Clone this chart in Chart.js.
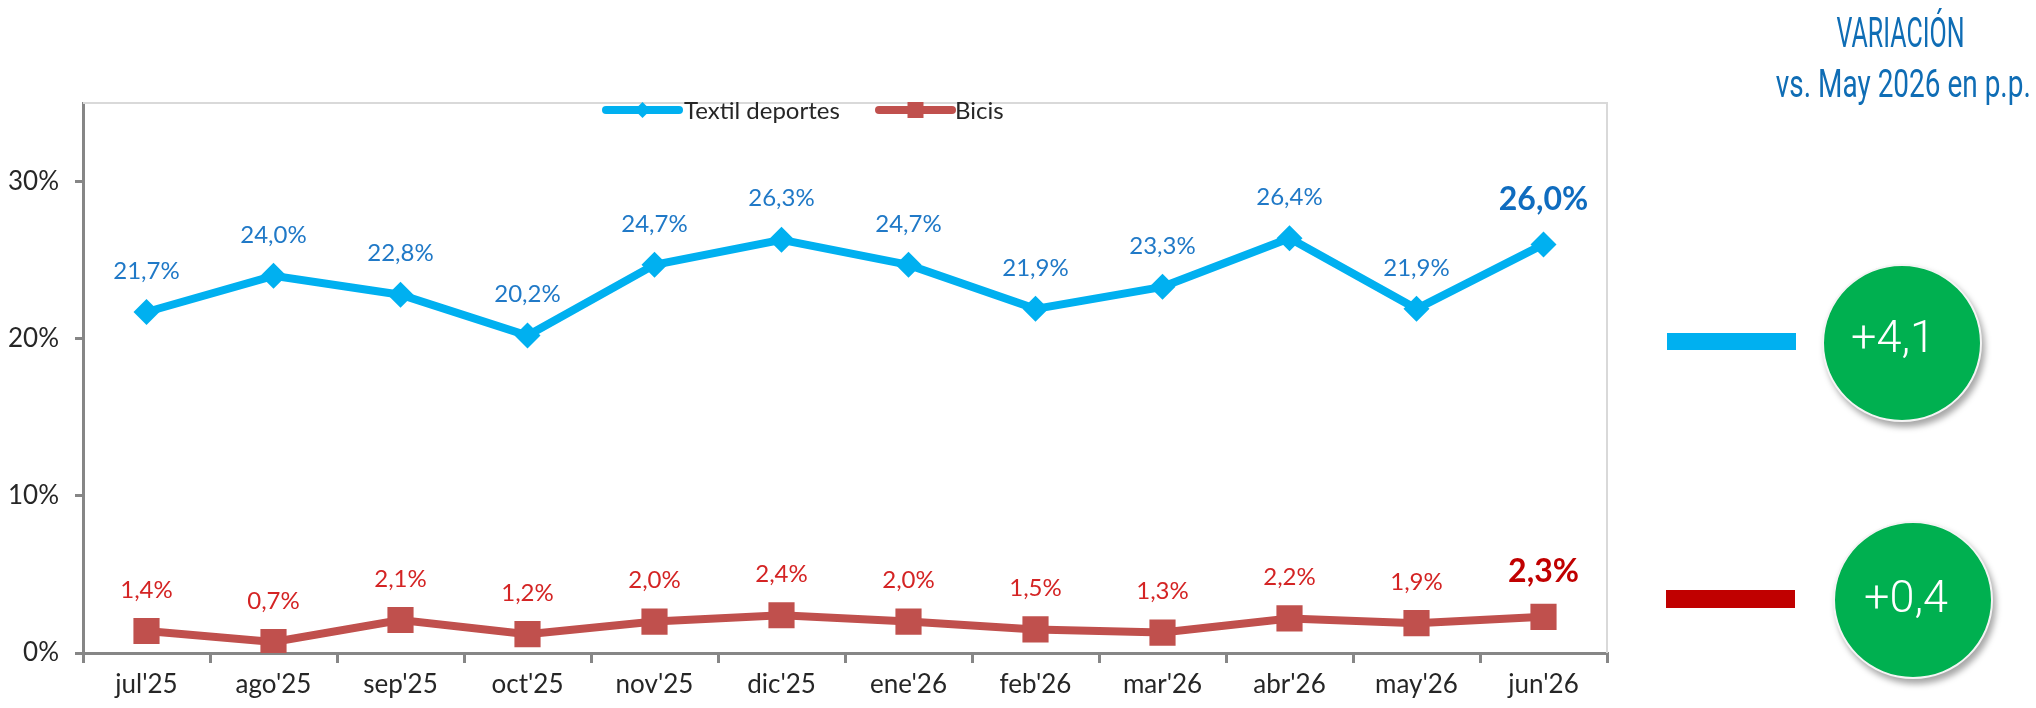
<!DOCTYPE html>
<html>
<head>
<meta charset="utf-8">
<script src="https://cdn.jsdelivr.net/npm/chart.js@4.4.1/dist/chart.umd.min.js"></script>
<style>
html,body{margin:0;padding:0;background:#fff;}
#wrap{position:relative;width:2036px;height:708px;overflow:hidden;background:#fff;}
#c{position:absolute;left:0;top:0;}
.ttl{position:absolute;color:#0f6db5;font-family:Roboto,"DejaVu Sans Condensed",sans-serif;font-weight:400;white-space:nowrap;line-height:1;}
.bub{position:absolute;border-radius:50%;background:#00b050;box-shadow:3px 5px 6px rgba(0,0,0,0.35);border:2px solid #f4f4f4;box-sizing:border-box;}
.btx{position:absolute;color:#fff;font-family:Roboto,"Open Sans",sans-serif;font-weight:300;white-space:nowrap;line-height:1;transform:translate(-50%,-50%);}
.bar{position:absolute;}
</style>
</head>
<body>
<div id="wrap">
  <canvas id="c" width="2036" height="708"></canvas>
  <div class="ttl" id="t1">VARIACIÓN</div>
  <div class="ttl" id="t2">vs. May 2026 en p.p.</div>
  <div class="bar" style="left:1667px;top:333px;width:129px;height:17px;background:#00b0f0;"></div>
  <div class="bar" style="left:1666px;top:590px;width:129px;height:18px;background:#c00000;"></div>
  <div class="bub" style="left:1822px;top:264px;width:160px;height:158px;"></div>
  <div class="bub" style="left:1833px;top:521px;width:160px;height:158px;"></div>
  <div class="btx" id="v1" style="left:1893px;top:336px;font-size:45px;"></div>
  <div class="btx" id="v2" style="left:1906px;top:596px;font-size:45px;"></div>
</div>
<script>
const categories = ["jul'25","ago'25","sep'25","oct'25","nov'25","dic'25","ene'26","feb'26","mar'26","abr'26","may'26","jun'26"];
const textilValues = [21.7,24.0,22.8,20.2,24.7,26.3,24.7,21.9,23.3,26.4,21.9,26.0];
const bicisValues = [1.4,0.7,2.1,1.2,2.0,2.4,2.0,1.5,1.3,2.2,1.9,2.3];
const seriesNames = ["Textil deportes","Bicis"];
const yTickValues = [0,10,20,30];
const yMax = 35;

const FONT = "Lato, 'Liberation Sans', sans-serif";
const fmt = v => v.toFixed(1).replace('.', ',');

// right-side variation values (last month vs previous month)
const variations = [
  textilValues[textilValues.length-1] - textilValues[textilValues.length-2],
  bicisValues[bicisValues.length-1] - bicisValues[bicisValues.length-2]
];
document.getElementById('v1').textContent = '+' + fmt(variations[0]);
document.getElementById('v2').textContent = '+' + fmt(variations[1]);

function placeTitle(id, cx, cy, size, targetW){
  const el = document.getElementById(id);
  el.style.fontSize = size + 'px';
  const w = el.getBoundingClientRect().width;
  const s = targetW / w;
  el.style.left = (cx - w/2) + 'px';
  el.style.top = (cy - size/2) + 'px';
  el.style.transform = 'scaleX(' + s + ')';
  el.style.transformOrigin = 'center center';
}
placeTitle('t1', 1901, 33, 42, 128);
placeTitle('t2', 1903, 84, 38, 255);

const frame = {
  id: 'frame',
  beforeDatasetsDraw(chart){
    const {ctx, chartArea:a} = chart;
    ctx.save();
    ctx.strokeStyle = '#d9d9d9';
    ctx.lineWidth = 2;
    ctx.beginPath();
    ctx.moveTo(a.left, a.top);
    ctx.lineTo(a.right, a.top);
    ctx.lineTo(a.right, a.bottom);
    ctx.stroke();
    ctx.restore();
  }
};

const labels = {
  id: 'labels',
  afterDatasetsDraw(chart){
    const ctx = chart.ctx;
    const specs = [
      {color:'#2079c7', last:'#0f6cbf', off:41},
      {color:'#d42424', last:'#c00000', off:41}
    ];
    chart.data.datasets.forEach((ds, di) => {
      const meta = chart.getDatasetMeta(di);
      meta.data.forEach((pt, i) => {
        const isLast = i === ds.data.length - 1;
        ctx.save();
        ctx.textAlign = 'center';
        ctx.textBaseline = 'middle';
        ctx.fillStyle = isLast ? specs[di].last : specs[di].color;
        ctx.font = (isLast ? 'bold 32px ' : '24px ') + FONT;
        ctx.fillText(fmt(ds.data[i]) + '%', pt.x, pt.y - (isLast ? 45 : specs[di].off));
        ctx.restore();
      });
    });
  }
};

const legendDraw = {
  id: 'legendDraw',
  afterDraw(chart){
    const ctx = chart.ctx;
    const y = 110;
    const items = [
      {x0:606, x1:679, tx:684, color:'#00b0f0', style:'diamond', name:seriesNames[0]},
      {x0:879, x1:952, tx:955, color:'#c0504d', style:'square', name:seriesNames[1]}
    ];
    items.forEach(it => {
      ctx.save();
      ctx.strokeStyle = it.color;
      ctx.lineWidth = 8;
      ctx.lineCap = 'round';
      ctx.beginPath();
      ctx.moveTo(it.x0, y);
      ctx.lineTo(it.x1, y);
      ctx.stroke();
      ctx.fillStyle = it.color;
      const cx = (it.x0 + it.x1)/2;
      ctx.beginPath();
      if (it.style === 'diamond') {
        ctx.moveTo(cx, y-8); ctx.lineTo(cx+8, y); ctx.lineTo(cx, y+8); ctx.lineTo(cx-8, y);
      } else {
        ctx.rect(cx-8, y-8, 16, 16);
      }
      ctx.fill();
      ctx.fillStyle = '#262626';
      ctx.font = '24px ' + FONT;
      ctx.textAlign = 'left';
      ctx.textBaseline = 'middle';
      ctx.fillText(it.name, it.tx, y + 1);
      ctx.restore();
    });
  }
};

new Chart(document.getElementById('c'), {
  type: 'line',
  data: {
    labels: categories,
    datasets: [
      {
        label: seriesNames[0],
        data: textilValues,
        borderColor: '#00b0f0',
        backgroundColor: '#00b0f0',
        borderWidth: 8,
        pointStyle: 'rectRot',
        pointRadius: 13,
        pointHoverRadius: 13,
        pointBorderWidth: 0,
        pointBackgroundColor: '#00b0f0',
        tension: 0,
        fill: false
      },
      {
        label: seriesNames[1],
        data: bicisValues,
        borderColor: '#c0504d',
        backgroundColor: '#c0504d',
        borderWidth: 8,
        pointStyle: 'rect',
        pointRadius: 18.5,
        pointHoverRadius: 18.5,
        pointBorderWidth: 0,
        pointBackgroundColor: '#c0504d',
        tension: 0,
        fill: false
      }
    ]
  },
  options: {
    responsive: false,
    animation: false,
    events: [],
    layout: { padding: { top: 103, right: 429, bottom: 0, left: 0 } },
    plugins: { legend: { display: false }, tooltip: { enabled: false } },
    scales: {
      x: {
        type: 'category',
        offset: true,
        grid: { display: true, drawOnChartArea: false, drawTicks: true, tickLength: 10, color: '#868686', lineWidth: 3, offset: true },
        border: { display: true, color: '#868686', width: 3 },
        ticks: { color: '#262626', font: { family: FONT, size: 26 }, padding: 6, maxRotation: 0, autoSkip: false },
        afterFit(s){ s.height = 55; }
      },
      y: {
        min: 0,
        max: yMax,
        afterBuildTicks(s){ s.ticks = yTickValues.map(v => ({value: v})); },
        grid: { display: true, drawOnChartArea: false, drawTicks: true, tickLength: 8, color: '#868686', lineWidth: 3 },
        border: { display: true, color: '#868686', width: 3 },
        ticks: { color: '#262626', font: { family: FONT, size: 26 }, padding: 16, callback: v => v + '%' },
        afterFit(s){ s.width = 83; }
      }
    }
  },
  plugins: [frame, labels, legendDraw]
});
</script>
</body>
</html>
